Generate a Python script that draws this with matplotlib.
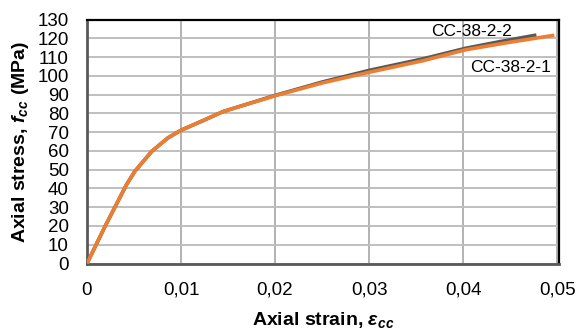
import matplotlib
matplotlib.use("Agg")
import matplotlib.pyplot as plt

plt.rcParams['font.family'] = ['Liberation Sans', 'DejaVu Sans']
plt.rcParams['mathtext.fontset'] = 'custom'
plt.rcParams['mathtext.rm'] = 'Liberation Sans'
plt.rcParams['mathtext.it'] = 'Liberation Sans:italic'
plt.rcParams['mathtext.bf'] = 'Liberation Sans:bold'
plt.rcParams['mathtext.bfit'] = 'Liberation Sans:italic:bold'

# Data
strain_1 = [0, 0.0019, 0.0042, 0.0051, 0.0069, 0.0086, 0.0100, 0.0125, 0.0145,
            0.0201, 0.0251, 0.0301, 0.0357, 0.0403, 0.0450, 0.0497]
stress_1 = [0, 19.6, 42, 49.2, 59.8, 66.9, 71, 76.5, 81,
            89.5, 96.3, 102, 108, 113.9, 117.9, 121.6]
strain_2 = [0, 0.0019, 0.0042, 0.0051, 0.0069, 0.0086, 0.0100, 0.0125, 0.0145,
            0.0201, 0.0251, 0.0301, 0.0357, 0.0403, 0.0440, 0.0478]
stress_2 = [0, 19.6, 42, 49.2, 59.8, 66.9, 71, 76.5, 81,
            89.7, 96.8, 103, 109, 114.7, 118.3, 121.7]
label_1 = "CC-38-2-1"
label_2 = "CC-38-2-2"
xticks = [0, 0.01, 0.02, 0.03, 0.04, 0.05]
xticklabels = ["0", "0,01", "0,02", "0,03", "0,04", "0,05"]
yticks = list(range(0, 131, 10))

fig = plt.figure(figsize=(5.82, 3.31), dpi=100)
ax = fig.add_axes([87/582, (331-263.5)/331, (559-87)/582, (263.5-19.5)/331])

ax.plot(strain_2, stress_2, color='#595959', lw=2.6, solid_capstyle='butt',
        solid_joinstyle='round', zorder=3)
ax.plot(strain_1, stress_1, color='#ED7D31', lw=2.6, solid_capstyle='butt',
        solid_joinstyle='round', zorder=4)

ax.set_xlim(0, 0.0502)
ax.set_ylim(0, 130)
ax.set_xticks(xticks)
ax.set_xticklabels(xticklabels)
ax.set_yticks(yticks)
ax.tick_params(axis='both', length=0, labelsize=13.5, pad=13)

ax.grid(True, axis='y', color='#bfbfbf', lw=1.4)
ax.grid(True, axis='x', color='#a6a6a6', lw=1.2)
ax.set_axisbelow(True)

for s in ['top', 'right']:
    ax.spines[s].set_color('black')
    ax.spines[s].set_linewidth(1.6)
for s in ['left', 'bottom']:
    ax.spines[s].set_color('#595959')
    ax.spines[s].set_linewidth(2.0)

ax.text(0.0409, 121.1, label_2, fontsize=12.5, ha='center', va='baseline')
ax.text(0.0450, 102.1, label_1, fontsize=12.5, ha='center', va='baseline')

ax.set_xlabel(r"Axial strain, $\mathbfit{\varepsilon}_{\mathbfit{cc}}$", fontsize=14,
              fontweight='bold', labelpad=8)
ax.set_ylabel(r"Axial stress, $\mathbfit{f}_{\mathbfit{cc}}$ (MPa)", fontsize=14,
              fontweight='bold', labelpad=5)

fig.savefig("out.png", dpi=100)
